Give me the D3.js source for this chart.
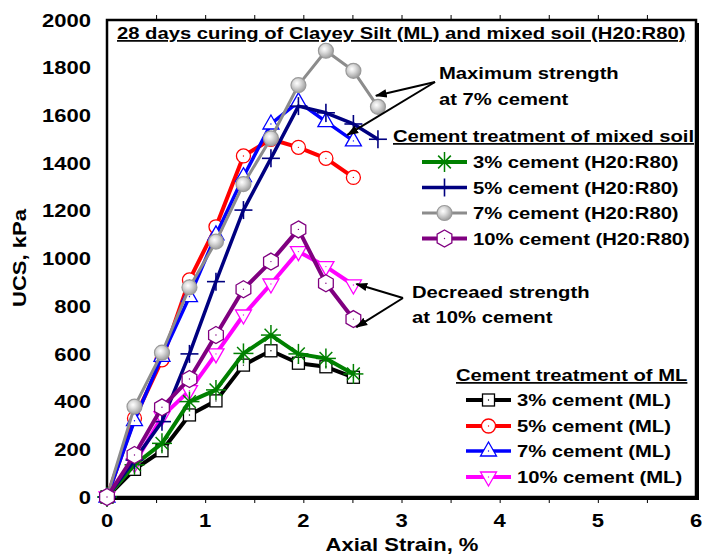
<!DOCTYPE html>
<html lang="en">
  <head>
    <meta charset="UTF-8" />
    <title>UCS vs Axial Strain</title>
    <style>
      body { margin: 0; background: #fff; }
      text { font-family: "Liberation Sans", Arial, sans-serif; font-weight: bold; fill: #000; }
    </style>
  </head>
  <body>
    <div class="chart"></div>
    <script src="https://d3js.org/d3.v7.min.js"></script>
    <script>
      // axial strain steps (%)
      const strain = [0, 0.28, 0.56, 0.84, 1.11, 1.39, 1.67, 1.95, 2.23, 2.51, 2.76];

      // UCS (kPa) - Clayey Silt (ML)
      const ml3 = [0, 116, 194, 344, 403, 553, 613, 561, 546, 502];
      const ml5 = [0, 330, 575, 910, 1133, 1430, 1500, 1466, 1420, 1340];
      const ml7 = [0, 320, 590, 840, 1099, 1343, 1564, 1657, 1574, 1493];
      const ml10 = [0, 140, 337, 446, 600, 763, 893, 1029, 966, 889];

      // UCS (kPa) - mixed soil (H20:R80)
      const mix3 = [0, 135, 225, 400, 449, 602, 679, 600, 581, 516];
      const mix5 = [0, 155, 316, 600, 903, 1203, 1420, 1639, 1611, 1564, 1500];
      const mix7 = [0, 379, 605, 879, 1071, 1312, 1504, 1727, 1871, 1787, 1636];
      const mix10 = [0, 176, 376, 495, 679, 871, 987, 1122, 896, 746];

      const xTicks = [0, 1, 2, 3, 4, 5, 6];
      const yTicks = [0, 200, 400, 600, 800, 1000, 1200, 1400, 1600, 1800, 2000];

      const mlLabels = ["3% cement (ML)", "5% cement (ML)", "7% cement (ML)", "10% cement (ML)"];
      const mixLabels = ["3% cement (H20:R80)", "5% cement (H20:R80)", "7% cement (H20:R80)", "10% cement (H20:R80)"];

      const width = 702;
      const height = 556;
      const pLeft = 107, pRight = 696, pTop = 20, pBottom = 497;
      const sx = 1.19; // glyphs in the picture are a bit wide

      const svg = d3.select(".chart").append("svg")
        .attr("width", width).attr("height", height);

      const defs = svg.append("defs");
      const grad = defs.append("radialGradient").attr("id", "ball")
        .attr("cx", "40%").attr("cy", "38%").attr("r", "65%");
      grad.append("stop").attr("offset", "0%").attr("stop-color", "#ffffff");
      grad.append("stop").attr("offset", "35%").attr("stop-color", "#e0e0e0");
      grad.append("stop").attr("offset", "100%").attr("stop-color", "#9a9a9a");

      const xScale = d3.scaleLinear().domain([0, 6]).range([pLeft, pRight]);
      const yScale = d3.scaleLinear().domain([0, 2000]).range([pBottom, pTop]);

      // text helper, stretched horizontally like the source
      const label = (g, x, y, str, size, opts = {}) => {
        const t = g.append("text")
          .attr("transform", `translate(${x},${y}) rotate(${opts.rotate || 0}) scale(${sx},1)`)
          .attr("font-size", size)
          .attr("text-anchor", opts.anchor || "start")
          .attr("dy", "0.36em")
          .text(str);
        if (opts.underline) t.style("text-decoration", "underline");
        return t;
      };

      // frame with shadow
      svg.append("rect")
        .attr("x", pLeft + 3).attr("y", pTop + 3)
        .attr("width", pRight - pLeft).attr("height", pBottom - pTop)
        .attr("fill", "#000");
      svg.append("rect")
        .attr("x", pLeft).attr("y", pTop)
        .attr("width", pRight - pLeft).attr("height", pBottom - pTop)
        .attr("fill", "#fff").attr("stroke", "#000").attr("stroke-width", 2.5);

      // minor ticks every 0.5 on top and bottom
      const minor = d3.range(0.5, 6, 0.5);
      svg.append("g")
        .attr("transform", `translate(0,${pBottom + 1})`)
        .call(d3.axisBottom(xScale).tickValues(minor).tickSize(5).tickFormat(""))
        .call((g) => g.select(".domain").remove())
        .selectAll("line").attr("stroke-width", 1);
      svg.append("g")
        .attr("transform", `translate(0,${pTop - 1})`)
        .call(d3.axisTop(xScale).tickValues(minor).tickSize(4).tickFormat(""))
        .call((g) => g.select(".domain").remove())
        .selectAll("line").attr("stroke-width", 1);

      // tick labels
      const tickG = svg.append("g");
      xTicks.forEach((v) => label(tickG, xScale(v), 520, String(v), 18.5, { anchor: "middle" }));
      yTicks.forEach((v) => label(tickG, 91, yScale(v), String(v), 18.5, { anchor: "end" }));

      label(svg, 402, 544, "Axial Strain, %", 18.5, { anchor: "middle" });
      label(svg, 19, 258, "UCS, kPa", 18.5, { anchor: "middle", rotate: -90 });

      // title
      label(svg, 117, 33, "28 days curing of Clayey Silt (ML) and mixed soil (H20:R80)", 17, { underline: true });

      // marker shapes
      const hexPts = d3.range(6).map((k) => {
        const a = (-90 + 60 * k) * Math.PI / 180;
        return [8.5 * Math.cos(a), 8.5 * Math.sin(a)];
      });
      const drawMarker = (g, type, color) => {
        if (type === "square") {
          g.append("rect").attr("x", -6).attr("y", -6).attr("width", 12).attr("height", 12)
            .attr("fill", "#fff").attr("stroke", color).attr("stroke-width", 1.3);
        } else if (type === "circle") {
          g.append("circle").attr("r", 7).attr("fill", "#fff").attr("stroke", color).attr("stroke-width", 1.3);
        } else if (type === "triUp") {
          g.append("path").attr("d", "M0,-9L8,5L-8,5Z").attr("fill", "#fff").attr("stroke", color).attr("stroke-width", 1.3);
        } else if (type === "triDown") {
          g.append("path").attr("d", "M0,9L8,-5L-8,-5Z").attr("fill", "#fff").attr("stroke", color).attr("stroke-width", 1.3);
        } else if (type === "hex") {
          g.append("path").attr("d", "M" + hexPts.join("L") + "Z").attr("fill", "#fff").attr("stroke", color).attr("stroke-width", 1.3);
        } else if (type === "ball") {
          g.append("circle").attr("r", 7.5).attr("fill", "url(#ball)").attr("stroke", "#9a9a9a").attr("stroke-width", 1.2);
          return;
        } else if (type === "star") {
          [0, 45, 90, 135].forEach((a) => {
            const r = a % 90 === 0 ? 10 : 9;
            const c = Math.cos(a * Math.PI / 180) * r, s = Math.sin(a * Math.PI / 180) * r;
            g.append("line").attr("x1", -c).attr("y1", -s).attr("x2", c).attr("y2", s)
              .attr("stroke", color).attr("stroke-width", 1.5);
          });
          return;
        } else if (type === "plus") {
          g.append("line").attr("x1", -9).attr("x2", 9).attr("stroke", color).attr("stroke-width", 1.6);
          g.append("line").attr("y1", -9).attr("y2", 9).attr("stroke", color).attr("stroke-width", 1.6);
          return;
        }
        g.append("circle").attr("r", 0.7).attr("fill", color);
      };

      const series = [
        { values: ml3, color: "#000000", marker: "square", width: 4 },
        { values: ml5, color: "#ff0000", marker: "circle", width: 4 },
        { values: ml7, color: "#0000ff", marker: "triUp", width: 3.5 },
        { values: ml10, color: "#ff00ff", marker: "triDown", width: 4 },
        { values: mix3, color: "#008000", marker: "star", width: 4 },
        { values: mix5, color: "#000080", marker: "plus", width: 3.5 },
        { values: mix7, color: "#8c8c8c", marker: "ball", width: 3 },
        { values: mix10, color: "#800080", marker: "hex", width: 4 },
      ];

      const line = d3.line().x((d) => xScale(d[0])).y((d) => yScale(d[1]));

      series.forEach((s) => {
        const pts = s.values.map((v, i) => [strain[i], v]);
        const g = svg.append("g");
        g.append("path").attr("d", line(pts)).attr("fill", "none")
          .attr("stroke", s.color).attr("stroke-width", s.width).attr("stroke-linejoin", "round");
        pts.forEach((p) => {
          const m = g.append("g").attr("transform", `translate(${xScale(p[0])},${yScale(p[1])})`);
          drawMarker(m, s.marker, s.color);
        });
      });

      // legends
      const legend = (titleX, titleY, rowY, lineX1, lineX2, textX, items, labels, titleText) => {
        const g = svg.append("g");
        label(g, titleX, titleY, titleText, 17, { underline: true });
        items.forEach((s, i) => {
          const y = rowY[i];
          g.append("line").attr("x1", lineX1).attr("x2", lineX2).attr("y1", y).attr("y2", y)
            .attr("stroke", s.color).attr("stroke-width", s.width);
          const m = g.append("g").attr("transform", `translate(${(lineX1 + lineX2) / 2},${y})`);
          drawMarker(m, s.marker, s.color);
          label(g, textX, y, labels[i], 17);
        });
      };
      legend(393, 136, [162, 187.5, 213, 238.5], 422, 467, 473, series.slice(4), mixLabels, "Cement treatment of mixed soil");
      legend(456, 375, [400, 426, 451, 477], 466, 511, 517, series.slice(0, 4), mlLabels, "Cement treatment of ML");

      // annotations with arrows
      defs.append("marker").attr("id", "head").attr("viewBox", "0 0 10 10")
        .attr("refX", 9).attr("refY", 5).attr("markerWidth", 6).attr("markerHeight", 6)
        .attr("orient", "auto")
        .append("path").attr("d", "M0,1.5L10,5L0,8.5Z").attr("fill", "#000");

      const arrow = (from, to) => {
        svg.append("line").attr("x1", from[0]).attr("y1", from[1]).attr("x2", to[0]).attr("y2", to[1])
          .attr("stroke", "#000").attr("stroke-width", 2).attr("marker-end", "url(#head)");
      };
      const maxFrom = [435, 82];
      arrow(maxFrom, [xScale(strain[10]) - 2, yScale(mix7[10]) - 11]);
      arrow(maxFrom, [xScale(strain[9]) - 6, yScale(ml7[9]) - 6]);
      label(svg, 439, 73, "Maximum strength", 17);
      label(svg, 439, 99, "at 7% cement", 17);

      const decFrom = [403, 298];
      arrow(decFrom, [xScale(strain[9]) + 3, yScale(ml10[9]) - 1]);
      arrow(decFrom, [xScale(strain[9]) + 3, yScale(mix10[9]) + 8]);
      label(svg, 412, 292, "Decreaed strength", 17);
      label(svg, 412, 317, "at 10% cement", 17);
    </script>
  </body>
</html>
